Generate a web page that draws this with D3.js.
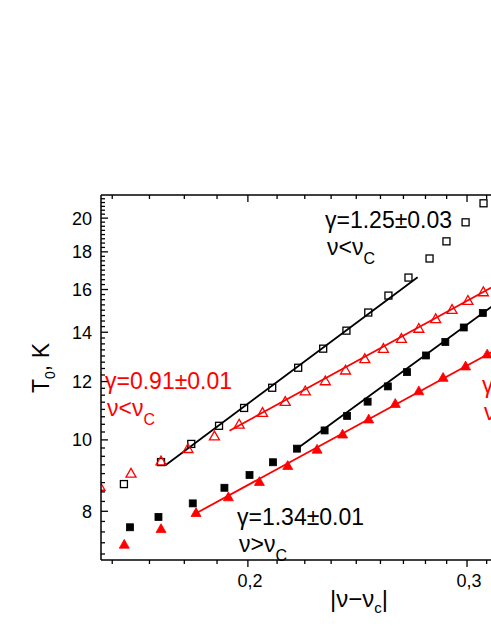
<!DOCTYPE html>
<html><head><meta charset="utf-8">
<script src="https://cdn.jsdelivr.net/npm/d3@7"></script>
<style>
body{margin:0;background:#fff}
svg{display:block}
text{font-family:"Liberation Sans",Arial,Helvetica,sans-serif}
</style>
</head><body>
<svg id="c" width="491" height="635"></svg>
<script>
// ---- data ----
// black open squares (nu < nu_c)
const openSqX = [0.159,0.1703,0.1801,0.1896,0.1986,0.2092,0.2195,0.2299,0.240,0.2499,0.2594,0.2692,0.2799,0.2888,0.2992,0.3093];
const openSqY = [8.71,9.33,9.875,10.45,11.05,11.77,12.53,13.30,14.07,14.89,15.70,16.61,17.63,18.60,19.74,20.95];
// red open triangles (nu < nu_c)
const openTriX = [0.1521,0.1611,0.1703,0.179,0.188,0.1968,0.2055,0.2143,0.2224,0.2308,0.2396,0.2483,0.257,0.2657,0.2744,0.2831,0.2918,0.3005,0.3092];
const openTriY = [8.63,8.99,9.34,9.71,10.10,10.48,10.87,11.25,11.63,12.00,12.41,12.86,13.28,13.70,14.14,14.57,15.00,15.43,15.85];
// black filled squares (nu > nu_c)
const fillSqX = [0.1608,0.1695,0.1806,0.1915,0.2006,0.2095,0.219,0.2305,0.2403,0.2496,0.2591,0.2685,0.2781,0.2882,0.2982,0.3089];
const fillSqY = [7.61,7.86,8.20,8.61,8.96,9.325,9.73,10.30,10.78,11.27,11.82,12.36,13.02,13.58,14.21,14.87];
// red filled triangles (nu > nu_c)
const fillTriX = [0.1591,0.1703,0.1817,0.1929,0.2043,0.2153,0.2273,0.2383,0.2501,0.2627,0.2744,0.287,0.2992,0.3114];
const fillTriY = [7.20,7.56,7.95,8.35,8.76,9.21,9.69,10.16,10.65,11.18,11.63,12.13,12.57,13.05];
// power-law fit lines (endpoints)
const fitOpenSqX = [0.1716,0.2738], fitOpenSqY = [9.23,16.63];
const fitOpenTriX = [0.1933,0.33], fitOpenTriY = [10.29,16.86];
const fitFillSqX = [0.219,0.33], fitFillSqY = [9.73,16.13];
const fitFillTriX = [0.1817,0.33], fitFillTriY = [7.95,13.77];
// axes
const xDomain = [0.1524,0.355];
const yDomain = [6.87,21.5];
const xMajor = [0.2,0.3];
const xMajorLabels = ["0,2","0,3"];
const xMinor = [0.1556,0.1667,0.1778,0.1889,0.2111,0.2222,0.2333,0.2444,0.2556,0.2667,0.2778,0.2889,0.3111,0.3222,0.3333,0.3444];
const yMajor = [8,10,12,14,16,18,20];
const yMajorLabels = ["8","10","12","14","16","18","20"];
const yMinor = [7,7.25,7.5,7.75,8.25,8.5,8.75,9,9.25,9.5,9.75,10.25,10.5,10.75,11,11.25,11.5,11.75,12.25,12.5,12.75,13,13.25,13.5,13.75,14.25,14.5,14.75,15,15.25,15.5,15.75,16.25,16.5,16.75,17,17.25,17.5,17.75,18.25,18.5,18.75,19,19.25,19.5,19.75,20.25,20.5,20.75,21,21.25];

// ---- layout ----
const L = 101, R = 558, T = 195, B = 560;
const svg = d3.select("#c");
const x = d3.scaleLog().domain(xDomain).range([L,R]);
const y = d3.scaleLog().domain(yDomain).range([B,T]);

svg.append("defs").append("clipPath").attr("id","clip")
  .append("rect").attr("x",L).attr("y",T).attr("width",R-L).attr("height",B-T);

const plot = svg.append("g").attr("clip-path","url(#clip)");

function zip(a,b){return a.map((v,i)=>[v,b[i]]);}
const line = d3.line().x(d=>x(d[0])).y(d=>y(d[1]));

function fit(xs,ys,color){
  plot.append("path").attr("d",line(zip(xs,ys)))
    .attr("fill","none").attr("stroke",color).attr("stroke-width",1.8);
}
fit(fitOpenSqX,fitOpenSqY,"#000");
fit(fitOpenTriX,fitOpenTriY,"#ff0000");
fit(fitFillSqX,fitFillSqY,"#000");
fit(fitFillTriX,fitFillTriY,"#ff0000");

const tri = "M0,-5.6 L5,3.2 L-5,3.2 Z";
function squares(xs,ys,filled){
  plot.append("g").selectAll("rect").data(zip(xs,ys)).join("rect")
    .attr("x",d=>x(d[0])-3.5).attr("y",d=>y(d[1])-3.5)
    .attr("width",7).attr("height",7)
    .attr("fill",filled?"#000":"none").attr("stroke","#000").attr("stroke-width",filled?0.8:1.3);
}
function triangles(xs,ys,filled){
  plot.append("g").selectAll("path").data(zip(xs,ys)).join("path")
    .attr("d",tri).attr("transform",d=>`translate(${x(d[0])},${y(d[1])})`)
    .attr("fill",filled?"#ff0000":"none").attr("stroke","#ff0000").attr("stroke-width",filled?0.8:1.3);
}
squares(openSqX,openSqY,false);
triangles(openTriX,openTriY,false);
squares(fillSqX,fillSqY,true);
triangles(fillTriX,fillTriY,true);

// ---- axes ----
const ax = svg.append("g").attr("stroke","#000").attr("stroke-width",1.5);
ax.append("line").attr("x1",L).attr("x2",R).attr("y1",B).attr("y2",B);
ax.append("line").attr("x1",L).attr("x2",R).attr("y1",T).attr("y2",T);
ax.append("line").attr("x1",L).attr("x2",L).attr("y1",T).attr("y2",B);

const tk = svg.append("g").attr("stroke","#000").attr("stroke-width",1.3);
xMajor.forEach(v=>{
  tk.append("line").attr("x1",x(v)).attr("x2",x(v)).attr("y1",B).attr("y2",B+7);
  tk.append("line").attr("x1",x(v)).attr("x2",x(v)).attr("y1",T).attr("y2",T+7);
});
xMinor.forEach(v=>{
  tk.append("line").attr("x1",x(v)).attr("x2",x(v)).attr("y1",B).attr("y2",B+4);
  tk.append("line").attr("x1",x(v)).attr("x2",x(v)).attr("y1",T).attr("y2",T+4);
});
yMajor.forEach(v=>{
  tk.append("line").attr("x1",L).attr("x2",L+7).attr("y1",y(v)).attr("y2",y(v));
});
yMinor.forEach(v=>{
  tk.append("line").attr("x1",L).attr("x2",L+4).attr("y1",y(v)).attr("y2",y(v));
});

svg.append("g").selectAll("text").data(xMajor).join("text")
  .attr("x",d=>x(d)+2).attr("y",587).attr("text-anchor","middle")
  .attr("font-size",18).text((d,i)=>xMajorLabels[i]);
svg.append("g").selectAll("text").data(yMajor).join("text")
  .attr("x",92).attr("y",d=>y(d)+6.5).attr("text-anchor","end")
  .attr("font-size",18).text((d,i)=>yMajorLabels[i]);

// axis titles
const yt = svg.append("text").attr("transform","translate(49,368) rotate(-90)")
  .attr("text-anchor","middle").attr("font-size",23);
yt.append("tspan").text("T");
yt.append("tspan").attr("font-size",14).attr("dy",6).text("0");
yt.append("tspan").attr("dy",-6).text(", K");

const xt = svg.append("text").attr("x",330).attr("y",607).attr("font-size",24);
xt.append("tspan").text("|ν−ν");
xt.append("tspan").attr("font-size",15).attr("dy",6).text("c");
xt.append("tspan").attr("dy",-6).text("|");

// annotations
function note(xp,yp,g,rel,color){
  svg.append("text").attr("x",xp).attr("y",yp).attr("font-size",23).attr("fill",color).text(g);
  const t = svg.append("text").attr("x",xp+2).attr("y",yp+27).attr("font-size",23).attr("fill",color);
  t.append("tspan").text(rel);
  t.append("tspan").attr("font-size",16).attr("dy",9).text("C");
}
note(325,228,"γ=1.25±0.03","ν<ν","#000");
note(105,389,"γ=0.91±0.01","ν<ν","#ff0000");
note(237,525,"γ=1.34±0.01","ν>ν","#000");
note(482,393,"γ=0.92±0.01","ν>ν","#ff0000");
</script>
</body></html>
